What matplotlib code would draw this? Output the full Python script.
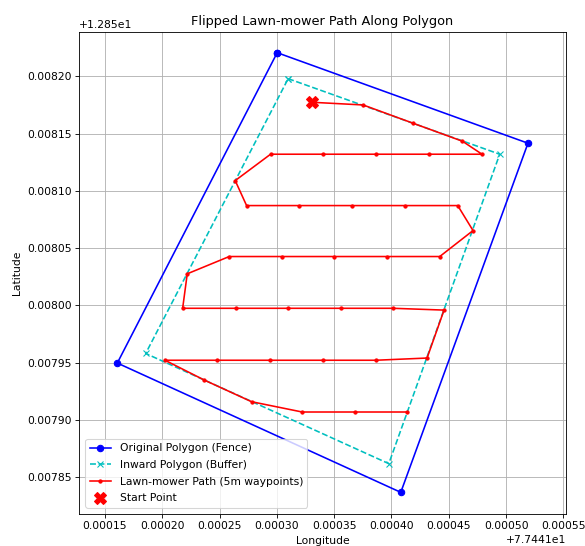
import matplotlib
matplotlib.use("Agg")
import matplotlib.pyplot as plt
import numpy as np

LAT0 = 12.85
LON0 = 77.441

# Original polygon (fence), closed
fence_lon = [0.00030025, 0.00051912, 0.00040811, 0.00016073, 0.00030025]
fence_lat = [0.00822058, 0.00814158, 0.00783690, 0.00794974, 0.00822058]

# Inward polygon (buffer), closed
buf_lon = [0.00030984, 0.00049444, 0.00039765, 0.00018549, 0.00030984]
buf_lat = [0.00819790, 0.00813198, 0.00786193, 0.00795810, 0.00819790]

# Lawn-mower path waypoints
path_lon = [0.00033024, 0.00037524, 0.00041884, 0.00046191, 0.00047901,
            0.00043279, 0.00038692, 0.00034036, 0.00029449, 0.00026362,
            0.00027356, 0.00031943, 0.00036565, 0.00041186, 0.00045782,
            0.00047116, 0.00044212, 0.00039590, 0.00034995, 0.00030434,
            0.00025839, 0.00022177, 0.00021775, 0.00026397, 0.00030984,
            0.00035579, 0.00040140, 0.00044587, 0.00043105, 0.00038631,
            0.00033983, 0.00029388, 0.00024793, 0.00020232, 0.00023659,
            0.00027792, 0.00032205, 0.00036800, 0.00041378]
path_lat = [0.00817733, 0.00817497, 0.00815902, 0.00814332, 0.00813198,
            0.00813198, 0.00813198, 0.00813198, 0.00813198, 0.00810896,
            0.00808716, 0.00808716, 0.00808716, 0.00808716, 0.00808716,
            0.00806536, 0.00804269, 0.00804269, 0.00804269, 0.00804269,
            0.00804269, 0.00802761, 0.00799752, 0.00799752, 0.00799752,
            0.00799752, 0.00799752, 0.00799595, 0.00795410, 0.00795218,
            0.00795218, 0.00795218, 0.00795218, 0.00795218, 0.00793491,
            0.00791599, 0.00790701, 0.00790701, 0.00790701]

start_lon = [0.00033024]
start_lat = [0.00817733]

DPI = 77
fig = plt.figure(figsize=(585 / DPI, 546 / DPI), dpi=DPI)
ax = fig.add_axes([79 / 585, 1 - 514 / 546, (566 - 79) / 585, (514 - 31.7) / 546])

def L(v, base):
    return np.array(v) + base

ax.plot(L(fence_lon, LON0), L(fence_lat, LAT0), 'bo-', label='Original Polygon (Fence)')
ax.plot(L(buf_lon, LON0), L(buf_lat, LAT0), 'cx--', label='Inward Polygon (Buffer)')
ax.plot(L(path_lon, LON0), L(path_lat, LAT0), 'r.-', label='Lawn-mower Path (5m waypoints)')
ax.plot(L(start_lon, LON0), L(start_lat, LAT0), 'rX', markersize=12, label='Start Point')

ax.set_xlim(LON0 + 0.0001273, LON0 + 0.0005523)
ax.set_ylim(LAT0 + 0.007818, LAT0 + 0.0082389)
ax.set_xticks(LON0 + np.arange(0.00015, 0.000551, 0.00005))
ax.set_yticks(LAT0 + np.arange(0.00785, 0.008201, 0.00005))

ax.set_title('Flipped Lawn-mower Path Along Polygon')
ax.set_xlabel('Longitude')
ax.set_ylabel('Latitude', labelpad=5)
ax.grid(True)
ax.legend(loc='lower left', labelspacing=0.62, borderaxespad=0.6)

fig.savefig('out.png', dpi=DPI)
